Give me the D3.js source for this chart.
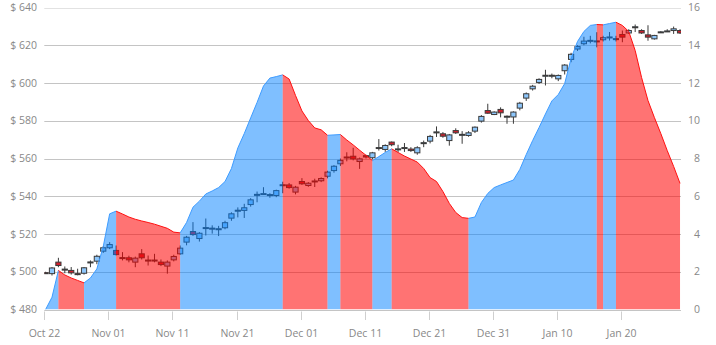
<!DOCTYPE html>
<html><head><meta charset="utf-8">
<script src="https://cdn.jsdelivr.net/npm/d3@7"></script>
<style>body{margin:0;background:#fff;overflow:hidden} text{font-family:"Open Sans",sans-serif}</style>
</head><body><svg id="c" width="716" height="345"></svg>
<script>
// ---------------- data ----------------
const startDate = "2018-10-22";
const opens  = [499.5,499,505.1,501.4,500.7,499.0,499.2,505.0,505.6,510.9,512.7,511.3,507.5,507.4,505.1,509.5,506.2,506,505.1,503.0,
                506.3,509.5,515.7,521.3,517.6,523.2,523.1,522.6,523.3,528.4,532.4,532.5,535.6,540.8,541.2,540.7,540.4,546,546,542.2,
                547.8,545.7,547.9,548.2,550.6,553.6,557.2,560.6,561.2,558.4,561.5,560.4,565.6,564.8,568.7,564.9,565.6,565,563,568.2,
                569.2,573.9,573.1,569.5,574.8,572.6,572.2,574.5,579.8,585.4,583.3,586,582.2,582,586.7,592,596.9,600.3,603.9,603.9,
                602.2,606.5,612.5,618,620.8,622.4,622.1,622.9,624.2,623.3,625.7,626.5,629.6,627.8,625.5,623.4,626.9,627.4,627.8,627.8];
const closes = [499.4,502,503.3,501.0,499.4,498.8,502.1,505.2,508.2,512.7,514.4,509.1,507.3,506.3,507.2,507.4,506,506.2,503.8,505.1,
                508.1,512.5,518.3,519.7,520.4,523.4,523,522.8,526,530.7,532.6,533.9,538.1,541,541.4,540.9,543,546.1,544.6,544.8,
                546.6,546.9,548.1,549.4,552.8,555.9,559,560.8,559.8,559.8,560.8,563,565.8,566.9,567.3,565.1,565.8,564.2,565.7,568.4,
                571.7,574.1,571.8,572.5,573.6,572.8,573.6,576.6,582.3,584,584.6,584.2,582.4,584.6,589.3,594.3,598.3,601.9,604.1,604.1,
                604,609.5,615.2,619.3,622.2,622.6,622.3,624,624.4,623.5,624.3,627.8,629.8,626.5,624.3,625.2,627.1,627.6,628.7,626.5];
const highs  = [500,502.5,507.4,502.8,502.5,501.6,502.5,506,509,513.5,515.7,513.9,510.4,508.5,508,512,508.6,509.5,506.5,506,
                509,513.9,519,526.3,521,528.2,524.6,524.3,527,531.5,534.1,536,539,542.5,544.8,541.6,543.5,547.7,547,545.5,
                549.6,547.5,549.3,550,553.5,556.5,560,563.3,565.7,560.5,562,563.5,570.3,567.5,569,567.3,568.2,566,566.5,569.5,
                572.5,577,574,573,576,574.5,574.5,577,583,589,585,587.1,582.8,585,590,595,599,602.5,607,605,
                604.5,610,616,620,624.5,625,626.9,625,627,625,627.8,628.5,631,628.5,630.6,625.5,627.5,628.5,629.9,628.5];
const lows   = [499,498,502.4,499.2,498.5,498.1,498.5,502.4,504,510,512,508.6,506,505,502.4,506.5,503.3,505,503,499.0,
                505.5,509,514,519,516,519.2,520.2,518.9,522.5,527,528.8,528.5,534.5,536.8,541,539.2,539.5,541.6,544,541,
                546,545,544.9,547.5,549.5,552.5,556,558.5,559,554.5,560,559.5,564.2,563.5,566.5,563.4,563.5,563.5,562,566,
                568,571.4,571,566.8,573,567.8,571.5,573.5,579,583.7,583,581.8,578.4,578.4,585.5,590.5,596,599.5,598.7,602.5,
                601,604.5,611,617,620,621,618.9,622,622.5,622,621.6,626,627,626,622.4,623,626.5,627,626,626];
const areaValues = [0,0.65,2.07,1.83,1.67,1.54,1.41,1.67,2.15,3.34,5.07,5.21,5.06,4.9,4.78,4.69,4.61,4.52,4.41,4.3,
                    4.1,4.06,4.61,5.42,5.74,6.12,6.28,6.46,6.78,7.47,8.56,9.32,10.15,10.97,11.84,12.26,12.34,12.43,12.21,11.34,
                    10.52,10.01,9.62,9.52,9.23,9.25,9.27,8.98,8.72,8.44,8.17,7.89,8.1,8.32,8.51,8.32,8.13,7.97,7.81,7.47,
                    6.99,6.78,6.25,5.62,5.14,4.87,4.83,4.9,5.67,6.15,6.46,6.6,6.73,6.86,7.42,8.21,8.95,9.64,10.36,11.05,
                    11.39,11.97,13.3,14.2,14.73,15.05,15.1,15.08,15.15,15.22,15.05,14.73,13.72,12.29,11.07,10.17,9.32,8.42,7.58,6.68];
const leftTicks  = [480,500,520,540,560,580,600,620,640];
const rightTicks = [0,2,4,6,8,10,12,14,16];
const xTickDates  = ["2018-10-22","2018-11-01","2018-11-11","2018-11-21","2018-12-01","2018-12-11","2018-12-21","2018-12-31","2019-01-10","2019-01-20"];
const xTickLabels = ["Oct 22","Nov 01","Nov 11","Nov 21","Dec 01","Dec 11","Dec 21","Dec 31","Jan 10","Jan 20"];

// ---------------- layout ----------------
const L = 44.3, R = 681, T = 7.5, B = 309.5;
const parse = d3.timeParse("%Y-%m-%d");
const t0 = parse(startDate);
const DAY = 864e5;
const x = d3.scaleTime().domain([t0, new Date(+t0 + 99.35*DAY)]).range([L, R]);
const yL = d3.scaleLinear().domain([480, 640]).range([B, T]);
const yR = d3.scaleLinear().domain([0, 16]).range([B, T]);
const dates = areaValues.map((_, i) => new Date(+d3.timeDay.offset(t0, i) + 0.2*DAY));

const svg = d3.select("#c");
svg.append("defs").append("clipPath").attr("id","clip")
  .append("rect").attr("x", L).attr("y", T - 1).attr("width", R - L).attr("height", B - T + 1);

// gridlines
const grid = svg.append("g");
grid.selectAll("line").data(leftTicks).join("line")
  .attr("x1", L).attr("x2", R)
  .attr("y1", d => Math.round(yL(d)) + 0.5).attr("y2", d => Math.round(yL(d)) + 0.5)
  .attr("stroke", d => d === 640 ? "#e2e2e2" : "#c4c4c4").attr("stroke-width", 1);

// left axis labels
svg.append("g").selectAll("text").data(leftTicks).join("text")
  .attr("x", 37).attr("y", d => yL(d)).attr("dy", "0.35em")
  .attr("text-anchor", "end").attr("font-size", 10.5).attr("fill", "#888")
  .text(d => "$ " + d);
// right axis labels
svg.append("g").selectAll("text").data(rightTicks).join("text")
  .attr("x", 700).attr("y", d => yR(d)).attr("dy", "0.35em")
  .attr("text-anchor", "end").attr("font-size", 10.5).attr("fill", "#888")
  .text(d => d);
// x axis ticks + labels
const xt = svg.append("g");
xTickDates.forEach((ds, i) => {
  const xx = Math.round(x(parse(ds))) + 0.5;
  xt.append("line").attr("x1", xx).attr("x2", xx).attr("y1", 311.5).attr("y2", 320)
    .attr("stroke", "#cfcfcf");
  xt.append("text").attr("x", xx).attr("y", 336.5).attr("text-anchor", "middle")
    .attr("font-size", 10.5).attr("fill", "#888").text(xTickLabels[i]);
});

const plot = svg.append("g").attr("clip-path", "url(#clip)");

// candles
const cg = plot.append("g");
opens.forEach((o, i) => {
  const c = closes[i], cx = x(dates[i]);
  const up = c >= o;
  cg.append("line").attr("x1", cx).attr("x2", cx)
    .attr("y1", yL(highs[i])).attr("y2", yL(lows[i]))
    .attr("stroke", "#3b3b3b").attr("stroke-width", 1);
  const top = yL(Math.max(o, c)), h = Math.max(1, Math.abs(yL(o) - yL(c)));
  cg.append("rect").attr("x", cx - 2.6).attr("width", 5.2)
    .attr("y", top).attr("height", h)
    .attr("fill", up ? "#8dc6fb" : "#cf1f2c")
    .attr("stroke", "#3b3b3b").attr("stroke-width", 1);
});

// area coloured by direction of change
const runs = [];
for (let i = 0; i < areaValues.length - 1; i++) {
  const up = areaValues[i + 1] >= areaValues[i];
  if (runs.length && runs[runs.length - 1].up === up) runs[runs.length - 1].end = i + 1;
  else runs.push({ up, start: i, end: i + 1 });
}
const pts = areaValues.map((v, i) => ({ d: dates[i], v }));
const areaGen = d3.area().x(p => x(p.d)).y0(yR(0)).y1(p => yR(p.v));
const lineGen = d3.line().x(p => x(p.d)).y(p => yR(p.v));
const ag = plot.append("g");
runs.forEach(r => {
  const seg = pts.slice(r.start, r.end + 1);
  ag.append("path").attr("d", areaGen(seg))
    .attr("fill", r.up ? "#0080ff" : "#ff0000")
    .attr("fill-opacity", r.up ? 0.5 : 0.55);
});
runs.forEach(r => {
  const seg = pts.slice(r.start, r.end + 1);
  ag.append("path").attr("d", lineGen(seg))
    .attr("fill", "none").attr("stroke", r.up ? "#3d9bff" : "#ff1010").attr("stroke-width", 1);
});
</script></body></html>
